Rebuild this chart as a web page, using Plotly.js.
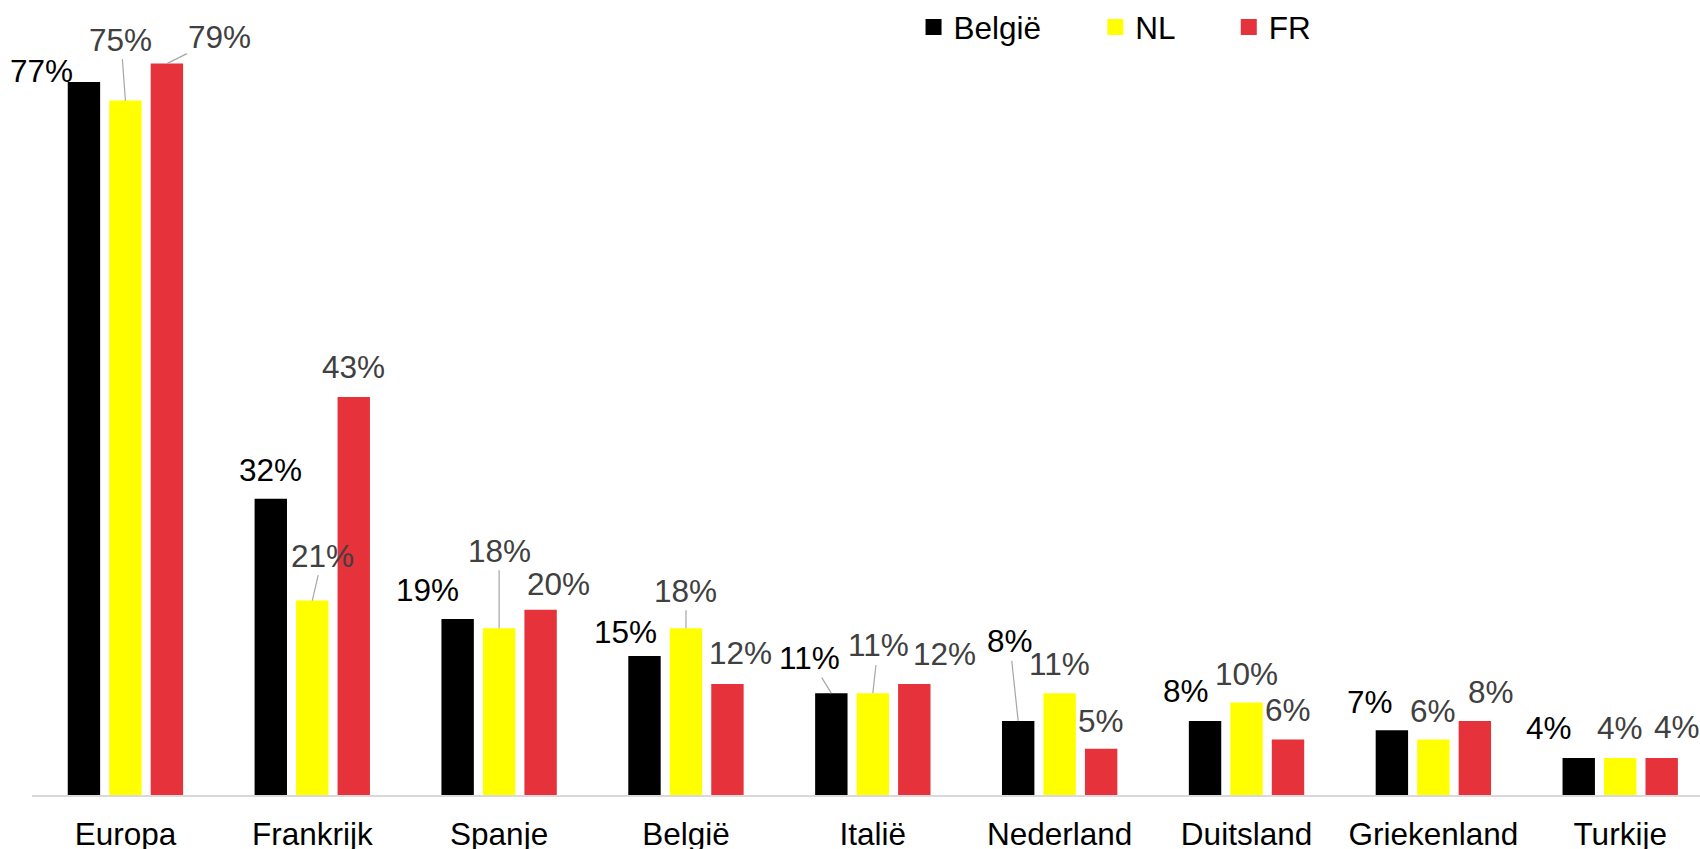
<!DOCTYPE html>
<html>
<head>
<meta charset="utf-8">
<script src="https://cdn.plot.ly/plotly-3.0.1.min.js"></script>
<style>html,body{margin:0;padding:0;background:#fff;}#chart{width:1700px;height:849px;}</style>
</head>
<body>
<div id="chart"></div>
<script>
// ---- data ----
const categories = ['Europa', 'Frankrijk', 'Spanje', 'België', 'Italië', 'Nederland', 'Duitsland', 'Griekenland', 'Turkije'];
const seriesNames = ['België', 'NL', 'FR'];
const belgie = [77, 32, 19, 15, 11, 8, 8, 7, 4];
const nl = [75, 21, 18, 18, 11, 11, 10, 6, 4];
const fr = [79, 43, 20, 12, 12, 5, 6, 8, 4];

// ---- styling ----
const FONT = 'Liberation Sans, Arial, sans-serif';
const FS = 31.5;
const colors = ['#000000', '#FFFF00', '#E6323A'];
const labelColors = ['#000000', '#404040', '#404040'];
const leaderColor = '#A6A6A6';
const barOffsetPx = [-41.5, 0, 41.5];

// label placement offsets (pixels, relative to top-centre of each bar) and leader-line flags
const labelDx = [
  [-42, 0, -30, -18.5, -21.7, -8.5, -18.6, -21.7, -30],
  [-4.5, 10.5, 0, 0, 5.3, 0, 0, 0, 0],
  [53, 0, 18, 13, 29.7, 0, 0, 15.8, 15.7]
];
const labelDy = [
  [-11, -29, -29, -24, -35, -79.5, -30, -28.5, -29.5],
  [-61, -45, -77.7, -37.7, -47.7, -29.3, -28.6, -28.5, -29.5],
  [-26.4, -30, -26, -31, -29.7, -27.6, -29, -29.2, -31]
];
const leaders = [
  [0, 0, 0, 0, 1, 1, 0, 0, 0],
  [1, 1, 1, 1, 1, 0, 0, 0, 0],
  [1, 0, 0, 0, 0, 0, 0, 0, 0]
];

const allSeries = [belgie, nl, fr];

const traces = allSeries.map((vals, s) => ({
  type: 'bar',
  name: seriesNames[s],
  x: categories,
  y: vals,
  marker: {color: colors[s], line: {width: 0}},
  showlegend: false,
  hoverinfo: 'x+y'
}));

// legend-only marker traces (square symbols)
const legendIds = ['legend', 'legend2', 'legend3'];
seriesNames.forEach((nm, s) => {
  traces.push({
    type: 'scatter',
    mode: 'markers',
    name: nm,
    x: [null],
    y: [null],
    marker: {symbol: 'square', size: 16, color: colors[s]},
    legend: legendIds[s],
    showlegend: true,
    hoverinfo: 'skip'
  });
});

const annotations = [];
allSeries.forEach((vals, s) => {
  vals.forEach((v, i) => {
    annotations.push({
      x: categories[i],
      y: v,
      xref: 'x',
      yref: 'y',
      xshift: barOffsetPx[s],
      text: v + '%',
      showarrow: true,
      arrowhead: 0,
      arrowwidth: 1.2,
      arrowcolor: leaders[s][i] ? leaderColor : 'rgba(0,0,0,0)',
      standoff: 0,
      ax: labelDx[s][i],
      ay: labelDy[s][i],
      xanchor: 'center',
      yanchor: 'middle',
      font: {family: FONT, size: FS, color: labelColors[s]}
    });
  });
});

const legendBase = {
  orientation: 'h',
  yanchor: 'middle',
  xanchor: 'left',
  y: 0.967,
  bgcolor: 'rgba(0,0,0,0)',
  borderwidth: 0,
  itemsizing: 'trace',
  font: {family: FONT, size: FS, color: '#000000'}
};

const layout = {
  width: 1700,
  height: 849,
  margin: {l: 32, r: 0, t: 0, b: 54, pad: 0},
  paper_bgcolor: '#ffffff',
  plot_bgcolor: '#ffffff',
  font: {family: FONT, size: FS, color: '#000000'},
  barmode: 'group',
  bargap: 0.334,
  bargroupgap: 0.219,
  xaxis: {
    type: 'category',
    range: [-0.5, 8.427],
    showline: true,
    linecolor: '#D9D9D9',
    linewidth: 1.5,
    ticks: '',
    showgrid: false,
    zeroline: false,
    tickfont: {family: FONT, size: FS, color: '#000000'},
    ticklabelstandoff: 11,
    fixedrange: true
  },
  yaxis: {
    range: [0, 85.76],
    visible: false,
    showgrid: false,
    zeroline: false,
    fixedrange: true
  },
  legend: Object.assign({}, legendBase, {x: 0.5285}),
  legend2: Object.assign({}, legendBase, {x: 0.6375}),
  legend3: Object.assign({}, legendBase, {x: 0.7175}),
  annotations: annotations
};

Plotly.newPlot('chart', traces, layout, {displayModeBar: false, staticPlot: true});
</script>
</body>
</html>
